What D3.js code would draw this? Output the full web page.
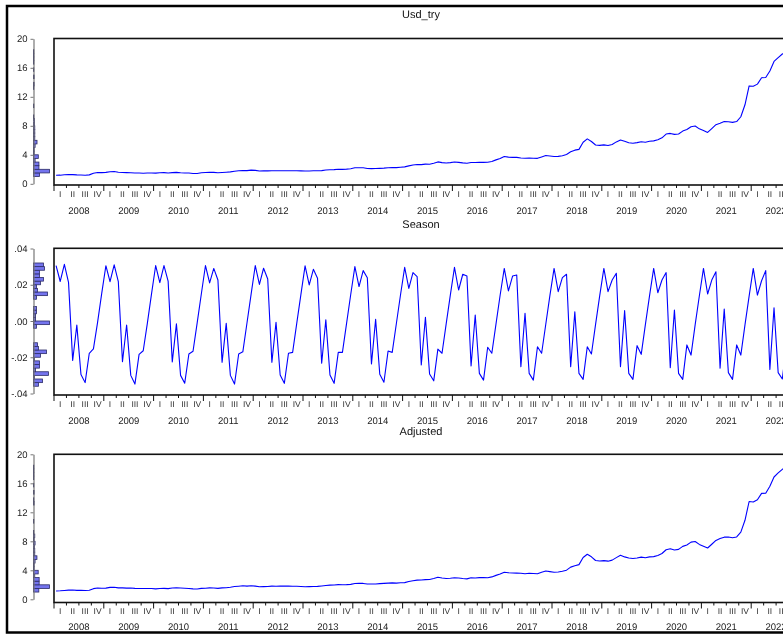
<!DOCTYPE html>
<html><head><meta charset="utf-8">
<script src="https://cdn.jsdelivr.net/npm/d3@7"></script>
<style>body{margin:0;background:#fff}svg{display:block;font-family:"Liberation Sans",Arial,sans-serif;will-change:transform;-webkit-font-smoothing:antialiased}text{text-rendering:geometricPrecision}</style>
</head><body><svg id="c" width="783" height="634"></svg>
<script>
// ---------- data (monthly, 2008M01 .. 2022M09) ----------
const years = [2008,2009,2010,2011,2012,2013,2014,2015,2016,2017,2018,2019,2020,2021,2022];
const quarterLabels = ["I","II","III","IV"];
const titles = ["Usd_try","Season","Adjusted"];

const usdTry = [
1.18,1.19,1.25,1.29,1.26,1.23,1.22,1.18,1.23,1.45,1.56,1.54,
1.57,1.66,1.70,1.60,1.55,1.54,1.52,1.48,1.48,1.46,1.49,1.50,
1.47,1.52,1.54,1.49,1.54,1.58,1.53,1.50,1.48,1.42,1.43,1.52,
1.56,1.59,1.58,1.53,1.56,1.60,1.64,1.73,1.79,1.84,1.82,1.88,
1.85,1.76,1.78,1.78,1.80,1.81,1.80,1.79,1.80,1.79,1.79,1.78,
1.76,1.77,1.80,1.80,1.82,1.91,1.93,1.95,2.01,1.99,2.02,2.07,
2.21,2.22,2.22,2.12,2.09,2.11,2.13,2.16,2.21,2.25,2.23,2.29,
2.33,2.47,2.59,2.66,2.64,2.71,2.70,2.84,3.02,2.92,2.86,2.92,
3.01,2.96,2.89,2.84,2.94,2.93,2.96,2.96,2.97,3.07,3.30,3.49,
3.77,3.68,3.65,3.64,3.56,3.52,3.56,3.52,3.51,3.71,3.90,3.83,
3.77,3.78,3.88,4.05,4.41,4.64,4.75,5.73,6.20,5.84,5.35,5.30,
5.37,5.28,5.42,5.78,6.05,5.86,5.67,5.60,5.68,5.80,5.74,5.86,
5.92,6.07,6.34,6.86,6.95,6.82,6.86,7.27,7.49,7.87,7.97,7.58,
7.36,7.09,7.61,8.15,8.35,8.58,8.56,8.47,8.59,9.25,10.90,13.50,
13.45,13.75,14.63,14.67,15.56,16.88,17.40,17.90,18.30];

const season = [
.0306,.0218,.0313,.0213,-.0218,-.0023,-.0295,-.0340,-.0178,-.0154,-.0008,.0152,
.0305,.0217,.0310,.0217,-.0225,-.0022,-.0300,-.0348,-.0184,-.0164,-.0012,.0150,
.0306,.0212,.0306,.0220,-.0226,-.0016,-.0300,-.0343,-.0182,-.0167,-.0010,.0149,
.0306,.0210,.0290,.0226,-.0228,-.0013,-.0300,-.0348,-.0182,-.0170,-.0011,.0148,
.0306,.0202,.0291,.0232,-.0228,-.0007,-.0298,-.0344,-.0178,-.0173,-.0012,.0147,
.0304,.0199,.0285,.0236,-.0233,.0006,-.0298,-.0344,-.0173,-.0173,-.0013,.0146,
.0300,.0190,.0278,.0239,-.0237,.0009,-.0294,-.0338,-.0166,-.0173,-.0014,.0145,
.0296,.0180,.0267,.0245,-.0243,.0020,-.0292,-.0330,-.0155,-.0178,-.0016,.0143,
.0296,.0171,.0258,.0248,-.0248,.0033,-.0289,-.0326,-.0145,-.0178,-.0017,.0142,
.0290,.0166,.0248,.0254,-.0252,.0042,-.0289,-.0326,-.0142,-.0178,-.0018,.0141,
.0290,.0162,.0239,.0258,-.0252,.0051,-.0289,-.0322,-.0142,-.0182,-.0019,.0140,
.0290,.0162,.0226,.0263,-.0252,.0057,-.0289,-.0322,-.0136,-.0184,-.0020,.0139,
.0290,.0156,.0226,.0267,-.0258,.0061,-.0289,-.0322,-.0132,-.0188,-.0020,.0138,
.0290,.0149,.0226,.0272,-.0261,.0066,-.0285,-.0322,-.0132,-.0188,-.0021,.0137,
.0290,.0143,.0222,.0278,-.0267,.0073,-.0285,-.0320,-.0130];

const adjusted = [
1.15,1.17,1.22,1.27,1.28,1.23,1.25,1.21,1.25,1.47,1.56,1.52,
1.54,1.64,1.67,1.58,1.57,1.54,1.55,1.51,1.50,1.48,1.49,1.49,
1.44,1.50,1.51,1.47,1.56,1.58,1.56,1.53,1.50,1.44,1.43,1.51,
1.53,1.57,1.55,1.51,1.58,1.60,1.67,1.76,1.81,1.86,1.82,1.87,
1.82,1.74,1.75,1.76,1.82,1.81,1.83,1.82,1.82,1.81,1.79,1.77,
1.73,1.75,1.77,1.78,1.84,1.91,1.96,1.98,2.03,2.01,2.02,2.06,
2.18,2.20,2.19,2.10,2.11,2.11,2.16,2.19,2.23,2.27,2.23,2.28,
2.30,2.45,2.56,2.64,2.66,2.71,2.73,2.87,3.04,2.94,2.86,2.91,
2.98,2.94,2.86,2.82,2.96,2.93,2.99,2.99,2.98,3.09,3.30,3.48,
3.74,3.66,3.63,3.61,3.59,3.52,3.59,3.55,3.52,3.73,3.90,3.82,
3.74,3.76,3.86,4.02,4.44,4.63,4.78,5.76,6.21,5.86,5.35,5.29,
5.34,5.26,5.40,5.75,6.08,5.85,5.70,5.63,5.69,5.82,5.74,5.85,
5.89,6.05,6.32,6.83,6.98,6.81,6.89,7.30,7.50,7.89,7.97,7.57,
7.33,7.08,7.59,8.12,8.38,8.57,8.59,8.50,8.60,9.27,10.90,13.49,
13.42,13.74,14.61,14.64,15.59,16.87,17.43,17.93,18.31];

const levelTicks = [0,4,8,12,16,20];
const levelTickLabels = ["0","4","8","12","16","20"];
const seasonTicks = [-0.04,-0.02,0,0.02,0.04];
const seasonTickLabels = ["-.04","-.02",".00",".02",".04"];

// ---------- layout ----------
const svg = d3.select("#c");
svg.append("rect").attr("width",783).attr("height",634).attr("fill","#fff");
svg.append("rect").attr("x",7).attr("y",6).attr("width",800).attr("height",626.5)
   .attr("fill","none").attr("stroke","#000").attr("stroke-width",2.5);

const nMonths = years.length*12;
const x = d3.scaleLinear().domain([0,nMonths]).range([54, 54 + nMonths*4.15]);

const panels = [
  {title:titles[0], data:usdTry, dom:[0,20], rng:[183.8,38.8], top:38.5, axisY:185, titleY:15, yrOff:26,
   ticks:levelTicks, labels:levelTickLabels, bin:0.5},
  {title:titles[1], data:season, dom:[-0.04,0.04], rng:[393.5,248.5], top:248.3, axisY:395, titleY:225, yrOff:26,
   ticks:seasonTicks, labels:seasonTickLabels, bin:0.002},
  {title:titles[2], data:adjusted, dom:[0,20], rng:[599.3,454.3], top:454.3, axisY:602.5, titleY:432, yrOff:24.5,
   ticks:levelTicks, labels:levelTickLabels, bin:0.5}
];

const quarterStarts = d3.range(0, nMonths+1, 3);
const quarterMids = d3.range(0, nMonths, 3);

panels.forEach(p => {
  const g = svg.append("g");
  const y = d3.scaleLinear().domain(p.dom).range(p.rng);

  // title
  g.append("text").attr("x",421).attr("y",p.titleY).attr("text-anchor","middle")
   .attr("dominant-baseline","middle").attr("font-size",11).attr("fill","#111").text(p.title);

  // histogram
  const nb = Math.round((p.dom[1]-p.dom[0])/p.bin);
  const thr = d3.range(0, nb+1).map(k => +(p.dom[0] + k*p.bin).toFixed(6));
  const bins = d3.bin().domain(p.dom).thresholds(thr)(p.data).filter(b => b.length>0);
  const maxC = d3.max(bins, b => b.length);
  const hx = d3.scaleLinear().domain([0,maxC]).range([33.5, 49.5]);
  g.selectAll("rect.h").data(bins).join("rect").attr("class","h")
   .attr("x",hx(0)).attr("width",b => hx(b.length)-hx(0))
   .attr("y",b => y(b.x1)).attr("height",b => y(b.x0)-y(b.x1))
   .attr("fill","#7474ee").attr("stroke","#2b2b66").attr("stroke-width",0.8);

  // histogram value axis
  const ax = d3.axisLeft(y).tickValues(p.ticks).tickFormat((d,i)=>p.labels[i]).tickSize(3).tickSizeOuter(0).tickPadding(3);
  const ag = g.append("g").attr("transform","translate(33.5,0)").call(ax);
  ag.select(".domain").attr("stroke","#777").attr("stroke-width",1.2);
  ag.selectAll(".tick line").attr("stroke","#777");
  ag.selectAll(".tick text").attr("font-size",9.5).attr("fill","#222").attr("font-family","Liberation Sans, Arial, sans-serif");

  // plot frame
  g.append("rect").attr("x",54).attr("y",p.top).attr("width",x(nMonths)-54).attr("height",p.axisY-p.top)
   .attr("fill","none").attr("stroke","#111").attr("stroke-width",1.6);

  // x ticks
  g.selectAll("line.q").data(quarterStarts).join("line").attr("class","q")
   .attr("x1",d=>x(d)).attr("x2",d=>x(d)).attr("y1",p.axisY)
   .attr("y2",d=> d%12===0 ? p.axisY+6 : p.axisY+3)
   .attr("stroke","#111").attr("stroke-width",1);
  g.selectAll("text.q").data(quarterMids).join("text").attr("class","q")
   .attr("x",d=>x(d+1.5)).attr("y",p.axisY+9.5).attr("text-anchor","middle")
   .attr("dominant-baseline","middle").attr("font-size",8.5).attr("fill","#333")
   .text(d=>quarterLabels[(d/3)%4]);
  g.selectAll("text.yr").data(years).join("text").attr("class","yr")
   .attr("x",(d,i)=>x(i*12+6)).attr("y",p.axisY+p.yrOff).attr("text-anchor","middle")
   .attr("dominant-baseline","middle").attr("font-size",9.5).attr("fill","#222")
   .text(d=>d);

  // series line
  const line = d3.line().x((d,i)=>x(i+0.5)).y(d=>y(d));
  g.append("path").datum(p.data).attr("d",line).attr("fill","none")
   .attr("stroke","#0000ff").attr("stroke-width",1.1).attr("stroke-linejoin","round");
});
</script></body></html>
